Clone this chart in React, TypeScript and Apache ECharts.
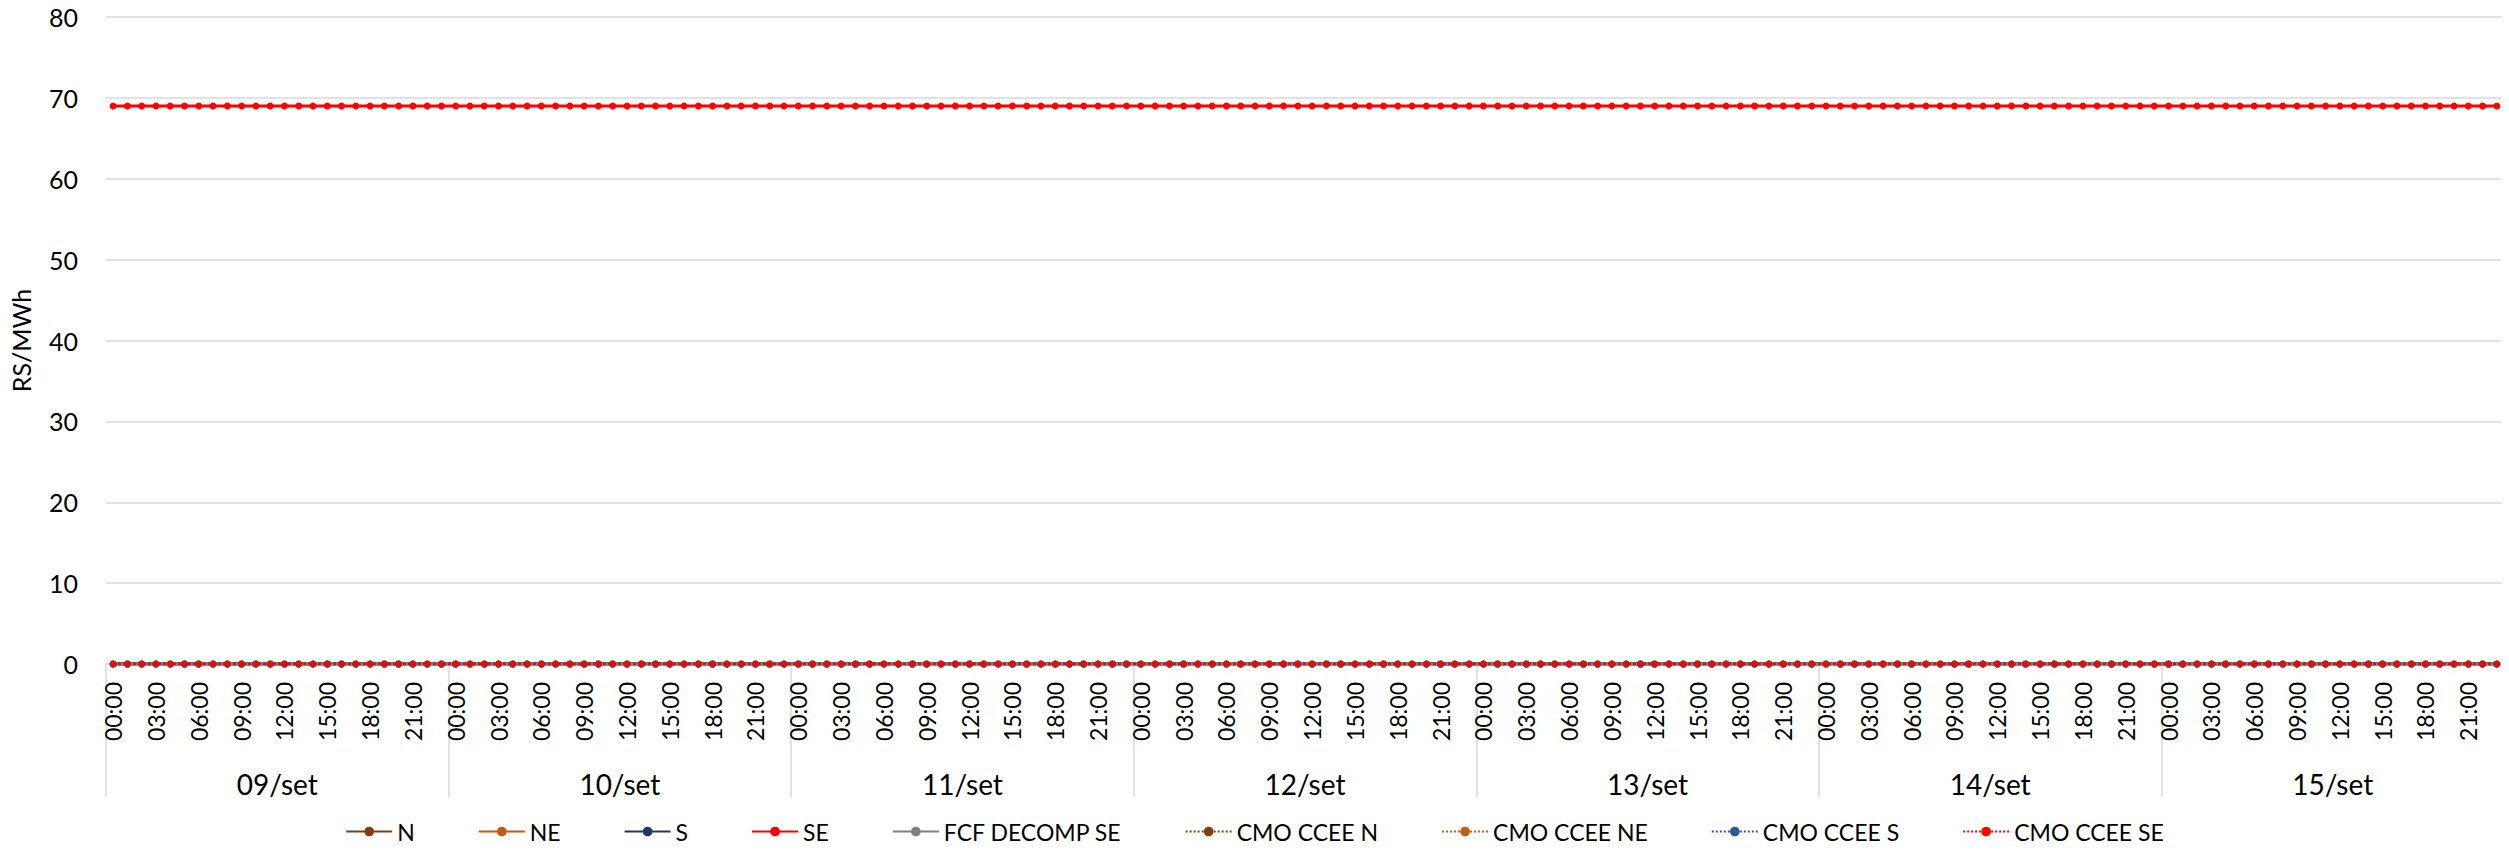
import React, { useEffect, useRef } from "react";
import * as echarts from "echarts";

// ---- data ----
const DAYS = ["09/set", "10/set", "11/set", "12/set", "13/set", "14/set", "15/set"];
const HOURS = [
  "00:00", "01:00", "02:00", "03:00", "04:00", "05:00", "06:00", "07:00",
  "08:00", "09:00", "10:00", "11:00", "12:00", "13:00", "14:00", "15:00",
  "16:00", "17:00", "18:00", "19:00", "20:00", "21:00", "22:00", "23:00",
];
const Y_TICKS = { min: 0, max: 80, interval: 10 };
const Y_NAME = "RS/MWh";

// hourly values of one day (the same on every day of the week)
const N_HOURLY = [0, 0, 0, 0, 0, 0, 0, 0, 0, 0, 0, 0, 0, 0, 0, 0, 0, 0, 0, 0, 0, 0, 0, 0];
const NE_HOURLY = [0, 0, 0, 0, 0, 0, 0, 0, 0, 0, 0, 0, 0, 0, 0, 0, 0, 0, 0, 0, 0, 0, 0, 0];
const S_HOURLY = [0, 0, 0, 0, 0, 0, 0, 0, 0, 0, 0, 0, 0, 0, 0, 0, 0, 0, 0, 0, 0, 0, 0, 0];
const SE_HOURLY = [69, 69, 69, 69, 69, 69, 69, 69, 69, 69, 69, 69, 69, 69, 69, 69, 69, 69, 69, 69, 69, 69, 69, 69];
const FCF_SE_HOURLY = [0, 0, 0, 0, 0, 0, 0, 0, 0, 0, 0, 0, 0, 0, 0, 0, 0, 0, 0, 0, 0, 0, 0, 0];
const CMO_N_HOURLY = [0, 0, 0, 0, 0, 0, 0, 0, 0, 0, 0, 0, 0, 0, 0, 0, 0, 0, 0, 0, 0, 0, 0, 0];
const CMO_NE_HOURLY = [0, 0, 0, 0, 0, 0, 0, 0, 0, 0, 0, 0, 0, 0, 0, 0, 0, 0, 0, 0, 0, 0, 0, 0];
const CMO_S_HOURLY = [0, 0, 0, 0, 0, 0, 0, 0, 0, 0, 0, 0, 0, 0, 0, 0, 0, 0, 0, 0, 0, 0, 0, 0];
const CMO_SE_HOURLY = [0, 0, 0, 0, 0, 0, 0, 0, 0, 0, 0, 0, 0, 0, 0, 0, 0, 0, 0, 0, 0, 0, 0, 0];

const FONT = "Lato, 'Open Sans', sans-serif";

const SERIES_DEFS = [
  { name: "N", values: N_HOURLY, color: "#843C0C", dotted: false, size: 7 },
  { name: "NE", values: NE_HOURLY, color: "#C55A11", dotted: false, size: 7 },
  { name: "S", values: S_HOURLY, color: "#1F3864", dotted: false, size: 7 },
  { name: "SE", values: SE_HOURLY, color: "#FF0000", dotted: false, size: 7 },
  { name: "FCF DECOMP SE", values: FCF_SE_HOURLY, color: "#808080", dotted: false, size: 0 },
  { name: "CMO CCEE N", values: CMO_N_HOURLY, color: "#843C0C", dotted: true, size: 6 },
  { name: "CMO CCEE NE", values: CMO_NE_HOURLY, color: "#C55A11", dotted: true, size: 6 },
  { name: "CMO CCEE S", values: CMO_S_HOURLY, color: "#2F5597", dotted: true, size: 6 },
  { name: "CMO CCEE SE", values: CMO_SE_HOURLY, color: "#FF0000", dotted: true, size: 6 },
];

export default function App() {
  const ref = useRef<HTMLDivElement>(null);

  useEffect(() => {
    if (!ref.current) return;
    const chart = echarts.init(ref.current, undefined, { renderer: "svg" });

    const categories = DAYS.flatMap((d) => HOURS.map((h) => d + " " + h));

    const series = SERIES_DEFS.map((s) => ({
      name: s.name,
      type: "line",
      xAxisIndex: 0,
      yAxisIndex: 0,
      data: DAYS.flatMap(() => s.values),
      symbol: s.size > 0 ? "circle" : "none",
      symbolSize: s.size,
      showSymbol: s.size > 0,
      itemStyle: { color: s.color },
      lineStyle: {
        color: s.color,
        width: s.dotted ? 2.5 : 3,
        type: s.dotted ? "dotted" : "solid",
      },
      emphasis: { disabled: true },
    }));

    chart.setOption({
      animation: false,
      grid: { left: 106, right: 5, top: 17, bottom: 187, containLabel: false },
      legend: {
        left: "center",
        top: 815,
        itemWidth: 46,
        itemHeight: 12,
        itemGap: 63,
        textStyle: { fontFamily: FONT, fontSize: 23, color: "#000" },
        data: SERIES_DEFS.map((s) => s.name),
      },
      xAxis: [
        {
          type: "category",
          data: categories,
          boundaryGap: true,
          position: "bottom",
          axisLine: { show: true, lineStyle: { color: "#d9d9d9", width: 1.5 } },
          axisTick: { show: false },
          splitLine: { show: false },
          axisLabel: {
            interval: 2,
            rotate: 90,
            margin: 18,
            fontFamily: FONT,
            fontSize: 23,
            color: "#000",
            formatter: (v: string) => v.split(" ")[1],
          },
        },
        {
          type: "category",
          data: DAYS,
          boundaryGap: true,
          position: "bottom",
          axisLine: { show: false },
          axisTick: {
            show: true,
            interval: 0,
            length: 133,
            lineStyle: { color: "#d9d9d9", width: 1.5 },
          },
          splitLine: { show: false },
          axisLabel: {
            interval: 0,
            margin: 106,
            fontFamily: FONT,
            fontSize: 28,
            color: "#000",
          },
        },
      ],
      yAxis: {
        type: "value",
        min: Y_TICKS.min,
        max: Y_TICKS.max,
        interval: Y_TICKS.interval,
        name: Y_NAME,
        nameLocation: "middle",
        nameGap: 73,
        nameTextStyle: { fontFamily: FONT, fontSize: 25, color: "#000" },
        axisLine: { show: false },
        axisTick: { show: false },
        splitLine: { lineStyle: { color: "#d9d9d9", width: 1.5 } },
        axisLabel: { margin: 28, fontFamily: FONT, fontSize: 25, color: "#000" },
      },
      series,
    });

    return () => chart.dispose();
  }, []);

  return <div ref={ref} style={{ width: 2509, height: 851, margin: -8 }} />;
}
